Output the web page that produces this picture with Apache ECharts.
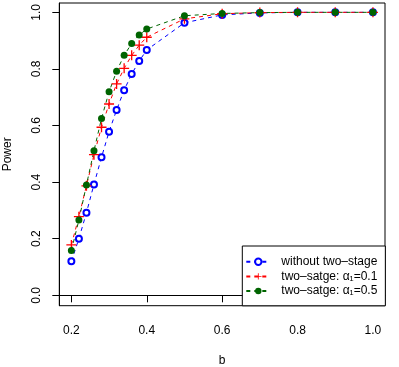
<!DOCTYPE html>
<html>
<head>
    <meta charset="utf-8">
    <title>Power vs b</title>
    <script src="https://cdn.jsdelivr.net/npm/echarts@6/dist/echarts.min.js"></script>
</head>
<body style="margin:0">
<div id="main" style="width:399px;height:367px;"></div>
<script type="text/javascript">
    // data
    var bValues = [0.2, 0.22, 0.24, 0.26, 0.28, 0.30, 0.32, 0.34, 0.36, 0.38, 0.40, 0.5, 0.6, 0.7, 0.8, 0.9, 1.0];
    var powerSingle = [0.12, 0.20, 0.292, 0.392, 0.488, 0.578, 0.655, 0.725, 0.782, 0.828, 0.867, 0.963, 0.991, 0.998, 1, 1, 1];
    var powerAlpha01 = [0.178, 0.278, 0.387, 0.497, 0.594, 0.676, 0.747, 0.802, 0.848, 0.884, 0.912, 0.977, 0.995, 0.999, 1, 1, 1];
    var powerAlpha05 = [0.158, 0.266, 0.39, 0.511, 0.625, 0.719, 0.792, 0.848, 0.89, 0.92, 0.941, 0.988, 0.996, 0.999, 1, 1, 1];
    var xTicks = [0.2, 0.4, 0.6, 0.8, 1.0];
    var yTicks = [0, 0.2, 0.4, 0.6, 0.8, 1.0];
    var seriesNames = ['without two\u2013stage', 'two\u2013satge: \u03b1\u2081=0.1', 'two\u2013satge: \u03b1\u2081=0.5'];

    var font = '"Liberation Sans", Arial, Helvetica, sans-serif';
    var plusPath = 'path://M4.35,0H5.65V4.35H10V5.65H5.65V10H4.35V5.65H0V4.35H4.35Z';

    function pairs(ys) {
        return bValues.map(function (b, i) { return [b, ys[i]]; });
    }

    var myChart = echarts.init(document.getElementById('main'));

    var option = {
        backgroundColor: '#fff',
        animation: false,
        textStyle: { fontFamily: font },
        grid: {
            left: 59.3, right: 14, top: 3, bottom: 61.3,
            outerBoundsMode: 'none',
            containLabel: false,
            show: true, borderColor: '#000', borderWidth: 1
        },
        xAxis: {
            type: 'value',
            min: 0.168, max: 1.032,
            name: 'b',
            nameLocation: 'middle',
            nameGap: 49,
            nameTextStyle: { fontSize: 12, color: '#000', fontFamily: font },
            axisLine: { show: true, lineStyle: { color: '#000', width: 1 } },
            axisTick: { show: true, length: 7, lineStyle: { color: '#000' }, customValues: xTicks },
            axisLabel: {
                fontSize: 12, color: '#000', margin: 19, fontFamily: font,
                customValues: xTicks,
                formatter: function (v) { return v.toFixed(1); }
            },
            splitLine: { show: false }
        },
        yAxis: {
            type: 'value',
            min: -0.0367, max: 1.033,
            name: 'Power',
            nameLocation: 'middle',
            nameGap: 46,
            nameTextStyle: { fontSize: 12, color: '#000', fontFamily: font },
            axisLine: { show: true, lineStyle: { color: '#000', width: 1 } },
            axisTick: { show: true, length: 7, lineStyle: { color: '#000' }, customValues: yTicks },
            axisLabel: {
                fontSize: 12, color: '#000', margin: 17, rotate: 90, fontFamily: font,
                customValues: yTicks,
                formatter: function (v) { return v.toFixed(1); }
            },
            splitLine: { show: false }
        },
        legend: {
            orient: 'vertical',
            left: 242.3,
            top: 246,
            padding: [8.5, 8, 7.5, 3],
            itemWidth: 24,
            itemHeight: 8,
            itemGap: 0,
            borderColor: '#000',
            borderWidth: 1,
            borderRadius: 0,
            backgroundColor: '#fff',
            textStyle: { fontSize: 12, lineHeight: 14.6, color: '#000', fontFamily: font, padding: [0, 0, 0, 6] },
            data: seriesNames
        },
        series: [{
            name: seriesNames[0],
            type: 'line',
            data: pairs(powerSingle),
            symbol: 'emptyCircle',
            symbolSize: 6,
            itemStyle: { color: '#0000ff', borderColor: '#0000ff', borderWidth: 1 },
            lineStyle: { color: '#0000ff', width: 1, type: [4, 4] }
        }, {
            name: seriesNames[1],
            type: 'line',
            data: pairs(powerAlpha01),
            symbol: plusPath,
            symbolSize: 10,
            itemStyle: { color: '#ff0000', borderWidth: 0 },
            lineStyle: { color: '#ff0000', width: 1, type: [4, 4] }
        }, {
            name: seriesNames[2],
            type: 'line',
            data: pairs(powerAlpha05),
            symbol: 'circle',
            symbolSize: 7,
            itemStyle: { color: '#006400', borderWidth: 0 },
            lineStyle: { color: '#006400', width: 1, type: [4, 4] }
        }]
    };

    myChart.setOption(option);
</script>
</body>
</html>
